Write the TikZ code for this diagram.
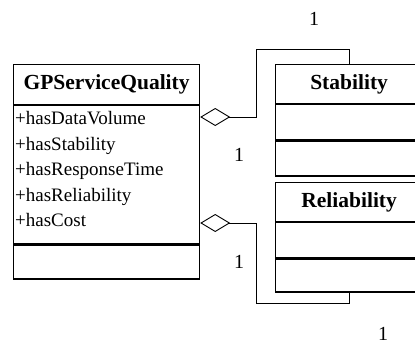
\documentclass[tikz,border=0pt]{standalone}
\usepackage{fontspec}
\setmainfont{Liberation Serif}
\usetikzlibrary{arrows.meta}

\tikzset{
  umlhead/.style={draw, line width=1.2pt, anchor=north west, inner sep=0pt,
    font=\fontsize{21.5}{24}\bfseries\selectfont},
  umlcomp/.style={draw, line width=1.2pt, anchor=north, inner sep=0pt},
  attrlist/.style={anchor=north west, inner sep=0pt, align=left,
    font=\fontsize{19}{25.5}\selectfont},
  aggr/.style={line width=0.9pt, {Diamond[open,length=30pt,width=18pt]}-},
  mult/.style={font=\fontsize{20}{24}\selectfont, inner sep=0pt}
}

\begin{document}
\begin{tikzpicture}[x=1pt, y=-1pt]
    \useasboundingbox (0,0) rectangle (415,340);
    \clip (0,0) rectangle (415,340);

    % GPServiceQuality class
    \node[umlhead, minimum width=186pt, minimum height=40pt] (gp) at (13,64) {GPServiceQuality};
    \node[umlcomp, minimum width=186pt, minimum height=138pt] (gpattr) at (gp.south) {};
    \node[umlcomp, minimum width=186pt, minimum height=34pt] (gpops) at (gpattr.south) {};
    \node[attrlist] (attrs) at ([xshift=2pt,yshift=-6pt]gpattr.north west)
      {+hasDataVolume\\+hasStability\\+hasResponseTime\\+hasReliability\\+hasCost};

    % Stability class
    \node[umlhead, minimum width=147pt, minimum height=39pt] (stab) at (275,64) {Stability};
    \node[umlcomp, minimum width=147pt, minimum height=35pt] (stabattr) at (stab.south) {};
    \node[umlcomp, minimum width=147pt, minimum height=35pt] (stabops) at (stabattr.south) {};

    % Reliability class
    \node[umlhead, minimum width=147pt, minimum height=39pt] (rel) at (275,182) {Reliability};
    \node[umlcomp, minimum width=147pt, minimum height=35pt] (relattr) at (rel.south) {};
    \node[umlcomp, minimum width=147pt, minimum height=33pt] (relops) at (relattr.south) {};

    % aggregations
    \coordinate (aggstab) at (gpattr.east |- 0,117);
    \coordinate (aggrel) at (gpattr.east |- 0,223);
    \draw[aggr] (aggstab) -- (256,117) |- ([yshift=15pt]stab.north) -- (stab.north);
    \draw[aggr] (aggrel) -- (256,223) |- ([yshift=-11pt]relops.south) -- (relops.south);

    % multiplicities
    \node[mult] (m1) at (314,19) {1};
    \node[mult] (m2) at (239,155) {1};
    \node[mult] (m3) at (239,262) {1};
    \node[mult] (m4) at (383,334) {1};
\end{tikzpicture}
\end{document}
